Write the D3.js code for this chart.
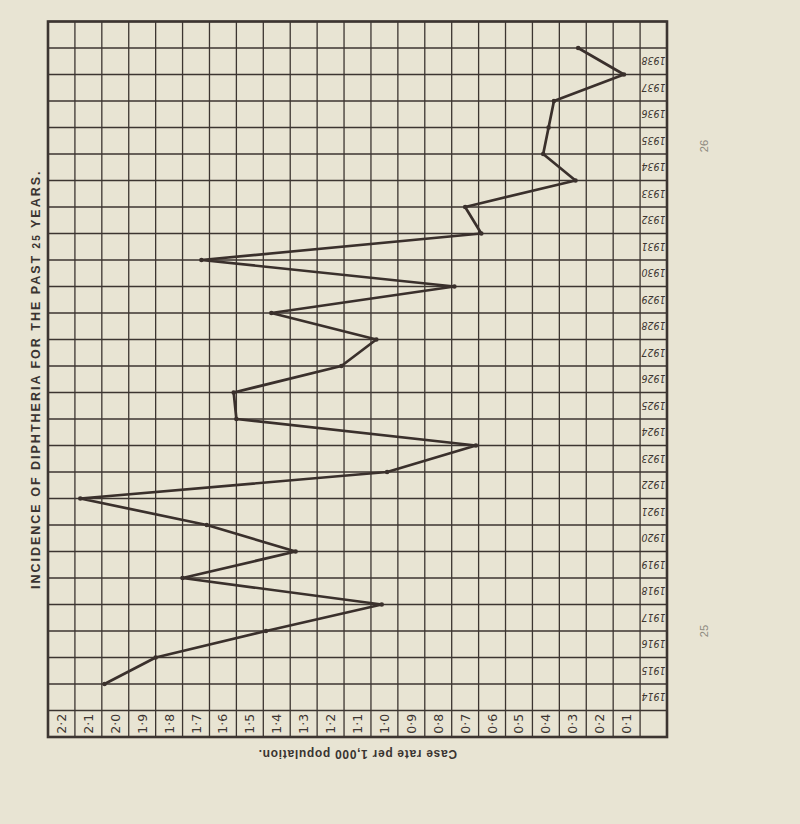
<!DOCTYPE html>
<html><head><meta charset="utf-8">
<script src="https://cdn.jsdelivr.net/npm/d3@7"></script>
<style>html,body{margin:0;padding:0;background:#e8e4d3;}svg{display:block}</style>
</head><body><svg id="c" width="800" height="824"></svg>
<script>
// ---- data ----
const years = [1914,1915,1916,1917,1918,1919,1920,1921,1922,1923,1924,1925,1926,1927,1928,1929,1930,1931,1932,1933,1934,1935,1936,1937,1938];
const rates = [1.99,1.80,1.39,0.96,1.70,1.28,1.61,2.08,0.94,0.61,1.50,1.51,1.11,0.98,1.37,0.69,1.63,0.59,0.65,0.24,0.36,0.34,0.32,0.06,0.23];
const scaleValues = [2.2,2.1,2.0,1.9,1.8,1.7,1.6,1.5,1.4,1.3,1.2,1.1,1.0,0.9,0.8,0.7,0.6,0.5,0.4,0.3,0.2,0.1];
const scaleLabels = ["2·2","2·1","2·0","1·9","1·8","1·7","1·6","1·5","1·4","1·3","1·2","1·1","1·0","0·9","0·8","0·7","0·6","0·5","0·4","0·3","0·2","0·1"];
const titleParts = ["INCIDENCE OF DIPHTHERIA FOR THE PAST ", "25", " YEARS."];
const axisTitle = "Case rate per 1,000 population.";
const pageNumbers = ["26", "25"];

// ---- scales ----
const svg = d3.select("#c");
const x = d3.scaleLinear().domain([2.2, -0.1]).range([48, 667]);
const y = d3.scaleLinear().domain([1938, 1914]).range([48, 684]);
const ink = "#3c3531";

// grid (vertical lines every 0.1, horizontal every year)
const vVals = d3.range(24).map(i => +(2.2 - i * 0.1).toFixed(1));
const hVals = d3.range(1939, 1911, -1);
const g = svg.append("g");
g.selectAll("line.v").data(vVals).join("line")
  .attr("x1", d => x(d)).attr("x2", d => x(d))
  .attr("y1", y(1939)).attr("y2", y(1912))
  .attr("stroke", ink).attr("stroke-width", 1.3);
g.selectAll("line.h").data(hVals).join("line")
  .attr("y1", d => y(d)).attr("y2", d => y(d))
  .attr("x1", x(2.2)).attr("x2", x(-0.1))
  .attr("stroke", ink).attr("stroke-width", 1.3);
g.append("rect")
  .attr("x", x(2.2)).attr("y", y(1939))
  .attr("width", x(-0.1) - x(2.2)).attr("height", y(1912) - y(1939))
  .attr("fill", "none").attr("stroke", ink).attr("stroke-width", 2.6);

// scale labels (rotated) in the bottom strip
svg.selectAll("text.sl").data(scaleValues).join("text")
  .attr("transform", (d) => `translate(${x(d) + (x(d - 0.1) - x(d)) / 2},${(y(1913) + y(1912)) / 2}) rotate(-90)`)
  .attr("text-anchor", "middle").attr("dominant-baseline", "central")
  .attr("font-family", "DejaVu Sans, sans-serif").attr("font-size", 12.5)
  .attr("fill", ink)
  .text((d, i) => scaleLabels[i]);

// year labels (upside down) in right column
svg.selectAll("text.yl").data(years).join("text")
  .attr("transform", d => `translate(${(x(0) + x(-0.1)) / 2},${(y(d) + y(d - 1)) / 2}) rotate(180)`)
  .attr("text-anchor", "middle").attr("dominant-baseline", "central")
  .attr("font-family", "DejaVu Sans Condensed, DejaVu Sans, sans-serif")
  .attr("font-style", "italic").attr("font-size", 10.5)
  .attr("fill", ink)
  .text(d => d);

// data line
const pts = years.map((yr, i) => [x(rates[i]), y(yr)]);
svg.append("path")
  .attr("d", d3.line()(pts))
  .attr("fill", "none").attr("stroke", "#3a302c")
  .attr("stroke-width", 2.7).attr("stroke-linejoin", "round").attr("stroke-linecap", "round");
svg.selectAll("circle.p").data(pts).join("circle")
  .attr("cx", d => d[0]).attr("cy", d => d[1]).attr("r", 2.3).attr("fill", "#3a302c");

// title (rotated)
const t = svg.append("text")
  .attr("transform", `translate(36,${(y(1926) + y(1925)) / 2}) rotate(-90)`)
  .attr("text-anchor", "middle").attr("dominant-baseline", "central")
  .attr("font-family", "Liberation Sans, Arial, sans-serif").attr("font-weight", "bold")
  .attr("font-size", 12.5).attr("letter-spacing", 2).attr("fill", "#3a3431");
t.append("tspan").text(titleParts[0]);
t.append("tspan").attr("font-size", 10).text(titleParts[1]);
t.append("tspan").text(titleParts[2]);

// axis title (upside down)
svg.append("text")
  .attr("transform", `translate(${x(1.05)},${y(1912) + 17}) rotate(180)`)
  .attr("text-anchor", "middle").attr("dominant-baseline", "central")
  .attr("font-family", "Liberation Sans, Arial, sans-serif").attr("font-weight", "bold")
  .attr("font-size", 12).attr("letter-spacing", 0.7).attr("fill", "#3a3431")
  .text(axisTitle);

// page numbers (right margin, rotated)
const pageY = [y(1934.3), y(1916)];
svg.selectAll("text.pn").data(pageNumbers).join("text")
  .attr("transform", (d, i) => `translate(704,${pageY[i]}) rotate(-90)`)
  .attr("text-anchor", "middle").attr("dominant-baseline", "central")
  .attr("font-family", "Liberation Sans, Arial, sans-serif")
  .attr("font-size", 11).attr("fill", "#8d8a80")
  .text(d => d);
</script></body></html>
